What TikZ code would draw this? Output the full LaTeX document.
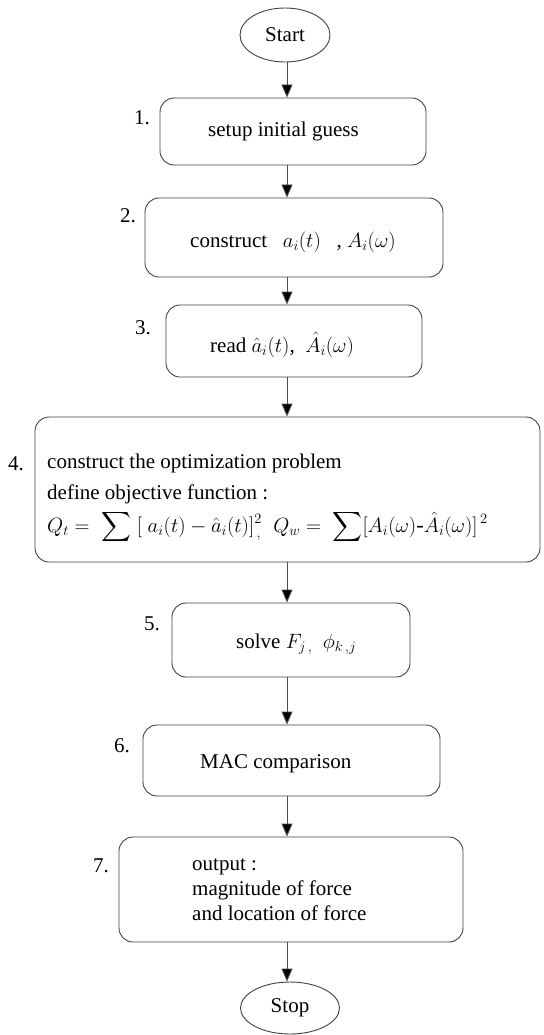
\documentclass[tikz,border=0pt]{standalone}
\usepackage{exscale}
\usepackage{fontspec}
\setmainfont{Liberation Serif}
\usetikzlibrary{arrows.meta,shapes.geometric}
\begin{document}
\begin{tikzpicture}[x=1pt,y=-1pt,
  every node/.style={font=\fontsize{21}{25}\selectfont, inner sep=0pt},
  stepbox/.style={draw=black!75, line width=0.9pt, rounded corners=14pt, rectangle},
  terminal/.style={draw=black!75, line width=0.9pt, ellipse},
  steplabel/.style={anchor=base},
  txt/.style={anchor=base west, align=left},
  flow/.style={draw=black!70, line width=0.9pt, -{Triangle[width=11pt,length=13pt,fill=black]}}
]
\useasboundingbox (0,0) rectangle (543,1035);

% terminals
\node[terminal, minimum width=90pt, minimum height=54pt] (start) at (285,35) {Start};
\node[terminal, minimum width=99pt, minimum height=52pt] (stop) at (290,1008) {Stop};

% process boxes
\node[stepbox, minimum width=266pt, minimum height=67pt] (b1) at (293,131.5) {};
\node[stepbox, minimum width=298pt, minimum height=79pt] (b2) at (294,237.5) {};
\node[stepbox, minimum width=256pt, minimum height=72pt] (b3) at (294,341) {};
\node[stepbox, minimum width=505pt, minimum height=145pt] (b4) at (287.5,489.5) {};
\node[stepbox, minimum width=238pt, minimum height=74pt] (b5) at (291,640) {};
\node[stepbox, minimum width=297pt, minimum height=71pt] (b6) at (291.5,760.5) {};
\node[stepbox, minimum width=344pt, minimum height=105pt] (b7) at (291,889.5) {};

% step numbers
\node[steplabel] (n1) at (142,125) {1.};
\node[steplabel] (n2) at (128,222) {2.};
\node[steplabel] (n3) at (143,334) {3.};
\node[steplabel] (n4) at (16,470) {4.};
\node[steplabel] (n5) at (152,630) {5.};
\node[steplabel] (n6) at (122,752) {6.};
\node[steplabel] (n7) at (101,872) {7.};

% box contents
\node[txt] (t1) at (208,137) {setup initial guess};
\node[txt] (t2) at (190,247) {construct \ \ $a_{i}(t)$ \ \ , $A_i(\omega)$};
\node[txt] (t3) at (210,352) {read $\hat{a}_i(t)$, \ $\hat{A}_i(\omega)$};
\node[txt] (t4a) at (47,468) {construct the optimization problem};
\node[txt] (t4b) at (47,499) {define objective function :};
\node[txt] (t4c) at (47,532) {\fontsize{22.5}{26}\selectfont$\displaystyle Q_t = \;\sum\;[\;a_i(t) - \hat{a}_i(t)]^{2}_{\,,}\;\; Q_w = \;\sum[A_i(\omega)\mbox{-}\hat{A}_i(\omega)]^{\,2}$};
\node[txt] (t5) at (236,648) {solve $F_{j\,,}$ \ $\phi_{k\,,j}$};
\node[txt] (t6) at (200,768) {MAC comparison};
\node[txt] (t7a) at (192,870) {output :};
\node[txt] (t7b) at (192,895) {magnitude of force};
\node[txt] (t7c) at (192,920) {and location of force};

% main flow line
\coordinate (axis) at (287,0);
\draw[flow] (start.south -| axis) -- (b1.north -| axis);
\draw[flow] (b1.south -| axis) -- (b2.north -| axis);
\draw[flow] (b2.south -| axis) -- (b3.north -| axis);
\draw[flow] (b3.south -| axis) -- (b4.north -| axis);
\draw[flow] (b4.south -| axis) -- (b5.north -| axis);
\draw[flow] (b5.south -| axis) -- (b6.north -| axis);
\draw[flow] (b6.south -| axis) -- (b7.north -| axis);
\draw[flow] (b7.south -| axis) -- (stop.north -| axis);
\end{tikzpicture}
\end{document}
